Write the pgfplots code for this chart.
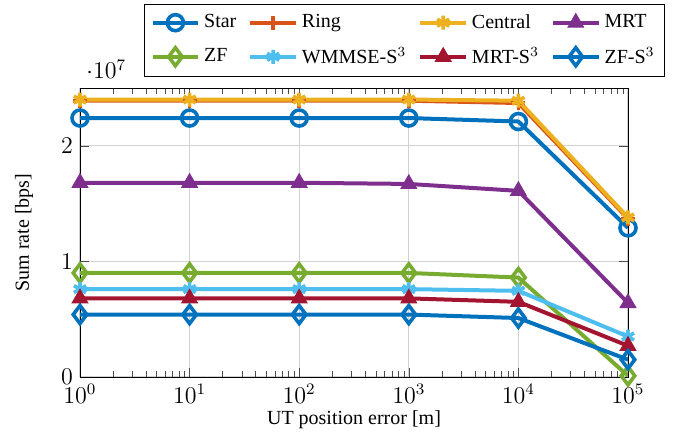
\documentclass[border=0pt]{standalone}
\usepackage{fontspec}
\setmainfont{Liberation Serif}
\usepackage{pgfplots}
\pgfplotsset{compat=1.18}
\definecolor{c1}{HTML}{0072BD}
\definecolor{c2}{HTML}{D95319}
\definecolor{c3}{HTML}{EDB120}
\definecolor{c4}{HTML}{7E2F8E}
\definecolor{c5}{HTML}{77AC30}
\definecolor{c6}{HTML}{4DBEEE}
\definecolor{c7}{HTML}{A2142F}
\begin{document}
\begin{tikzpicture}
\begin{axis}[
  name=ax,
  scale only axis,
  width=274pt, height=144.5pt,
  xmode=log, xmin=1, xmax=1e5,
  ymin=0, ymax=2.5e7,
  ytick={0,1e7,2e7},
  grid=major,
  major grid style={gray!35, line width=0.5pt},
  tick label style={font=\large},
  every x tick scale label/.style={at={(0,1)}, anchor=south west, yshift=2pt, xshift=-2pt, font=\large},
  xlabel={UT position error [m]},
  ylabel={Sum rate [bps]},
  every axis x label/.style={at={(rel axis cs:0.5,-0.166)}, anchor=base},
  every axis y label/.style={at={(rel axis cs:-0.102,0.5)}, rotate=90, anchor=center},
  tick style={black!70},
  every axis plot/.append style={line width=2pt},
  legend columns=4,
  legend style={at={(1.068,1.038)}, anchor=south east, draw=black, line width=0.6pt,
    /tikz/every even column/.append style={column sep=4pt}, font=\normalsize,
    row sep=4pt, inner ysep=3pt},
  legend cell align=left,
  legend image code/.code={\draw[mark repeat=2,mark phase=2] plot coordinates {(0cm,0cm) (0.4cm,0cm) (0.8cm,0cm)};},
]
\addplot[color=c1, mark=o, mark size=4pt, mark options={line width=1.8pt}] coordinates {(1,2.24e7)(10,2.24e7)(100,2.24e7)(1000,2.24e7)(1e4,2.21e7)(1e5,1.29e7)};
\addlegendentry{Star}
\addplot[color=c2, mark=+, mark size=3.5pt, mark options={line width=1.8pt}] coordinates {(1,2.39e7)(10,2.39e7)(100,2.39e7)(1000,2.39e7)(1e4,2.37e7)(1e5,1.37e7)};
\addlegendentry{Ring}
\addplot[color=c3, mark=asterisk, mark size=3.5pt, mark options={line width=1.8pt}] coordinates {(1,2.40e7)(10,2.40e7)(100,2.40e7)(1000,2.40e7)(1e4,2.39e7)(1e5,1.38e7)};
\addlegendentry{Central}
\addplot[color=c4, mark=triangle*, mark size=4.5pt, mark options={line width=0.5pt}] coordinates {(1,1.68e7)(10,1.68e7)(100,1.68e7)(1000,1.67e7)(1e4,1.61e7)(1e5,0.64e7)};
\addlegendentry{MRT}
\addplot[color=c5, mark=diamond, mark size=4.5pt, mark options={line width=1.8pt}] coordinates {(1,0.90e7)(10,0.90e7)(100,0.90e7)(1000,0.90e7)(1e4,0.86e7)(1e5,0.01e7)};
\addlegendentry{ZF}
\addplot[color=c6, mark=asterisk, mark size=3.5pt, mark options={line width=1.8pt}] coordinates {(1,0.76e7)(10,0.76e7)(100,0.76e7)(1000,0.76e7)(1e4,0.745e7)(1e5,0.35e7)};
\addlegendentry{WMMSE-S$^3$}
\addplot[color=c7, mark=triangle*, mark size=4.5pt, mark options={line width=0.5pt}] coordinates {(1,0.68e7)(10,0.68e7)(100,0.68e7)(1000,0.68e7)(1e4,0.65e7)(1e5,0.27e7)};
\addlegendentry{MRT-S$^3$}
\addplot[color=c1, mark=diamond, mark size=4.5pt, mark options={line width=1.8pt}] coordinates {(1,0.54e7)(10,0.54e7)(100,0.54e7)(1000,0.54e7)(1e4,0.51e7)(1e5,0.15e7)};
\addlegendentry{ZF-S$^3$}
\end{axis}
\path ([xshift=-40pt,yshift=-29.5pt]ax.south west) ([xshift=24.5pt,yshift=44pt]ax.north east);
\end{tikzpicture}
\end{document}
